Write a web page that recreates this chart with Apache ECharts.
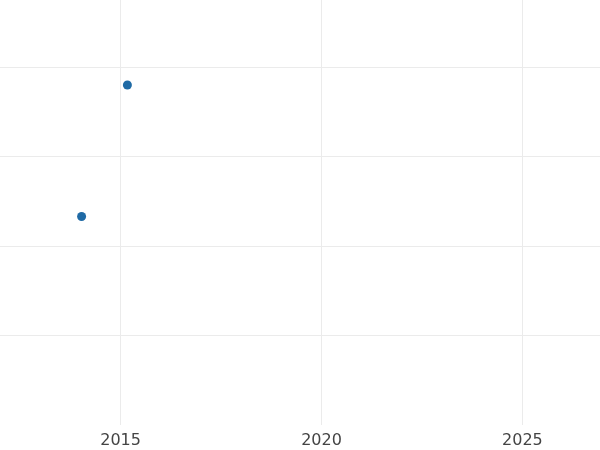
<!DOCTYPE html>
<html lang="en">
<head>
  <meta charset="UTF-8">
  <title>Chart</title>
  <style>
    html, body { margin: 0; padding: 0; background: #fff; }
    #chart { width: 600px; height: 450px; }
  </style>
  <script src="https://cdn.jsdelivr.net/npm/echarts@6/dist/echarts.min.js"></script>
</head>
<body>
  <div id="chart"></div>
  <script>
    var years = [2014.03, 2015.17];
    var values = [1.33, 2.80];
    var yearTicks = [2015, 2020, 2025];

    var chart = echarts.init(document.getElementById('chart'));
    chart.setOption({
      animation: false,
      grid: { left: 0, right: 0, top: 0, bottom: 25 },
      xAxis: {
        type: 'value',
        min: 2012,
        max: 2026.93,
        axisLine: { show: false },
        axisTick: { show: false },
        splitLine: { show: false },
        axisLabel: {
          customValues: yearTicks,
          formatter: function (v) { return String(v); },
          color: '#444',
          fontSize: 16,
          fontFamily: 'DejaVu Sans',
          margin: 8
        }
      },
      yAxis: {
        type: 'value',
        min: -1,
        max: 3.75,
        interval: 1,
        axisLine: { show: false },
        axisTick: { show: false },
        axisLabel: { show: false },
        splitLine: {
          showMinLine: false,
          showMaxLine: false,
          lineStyle: { color: '#ebebeb', width: 1 }
        }
      },
      series: [{
        type: 'scatter',
        data: years.map(function (y, i) { return [y, values[i]]; }),
        symbolSize: 9,
        itemStyle: { color: '#1f6aa5', opacity: 1 },
        markLine: {
          silent: true,
          symbol: 'none',
          label: { show: false },
          lineStyle: { color: '#ebebeb', type: 'solid', width: 1 },
          data: yearTicks.map(function (t) { return { xAxis: t }; })
        }
      }]
    });
  </script>
</body>
</html>
